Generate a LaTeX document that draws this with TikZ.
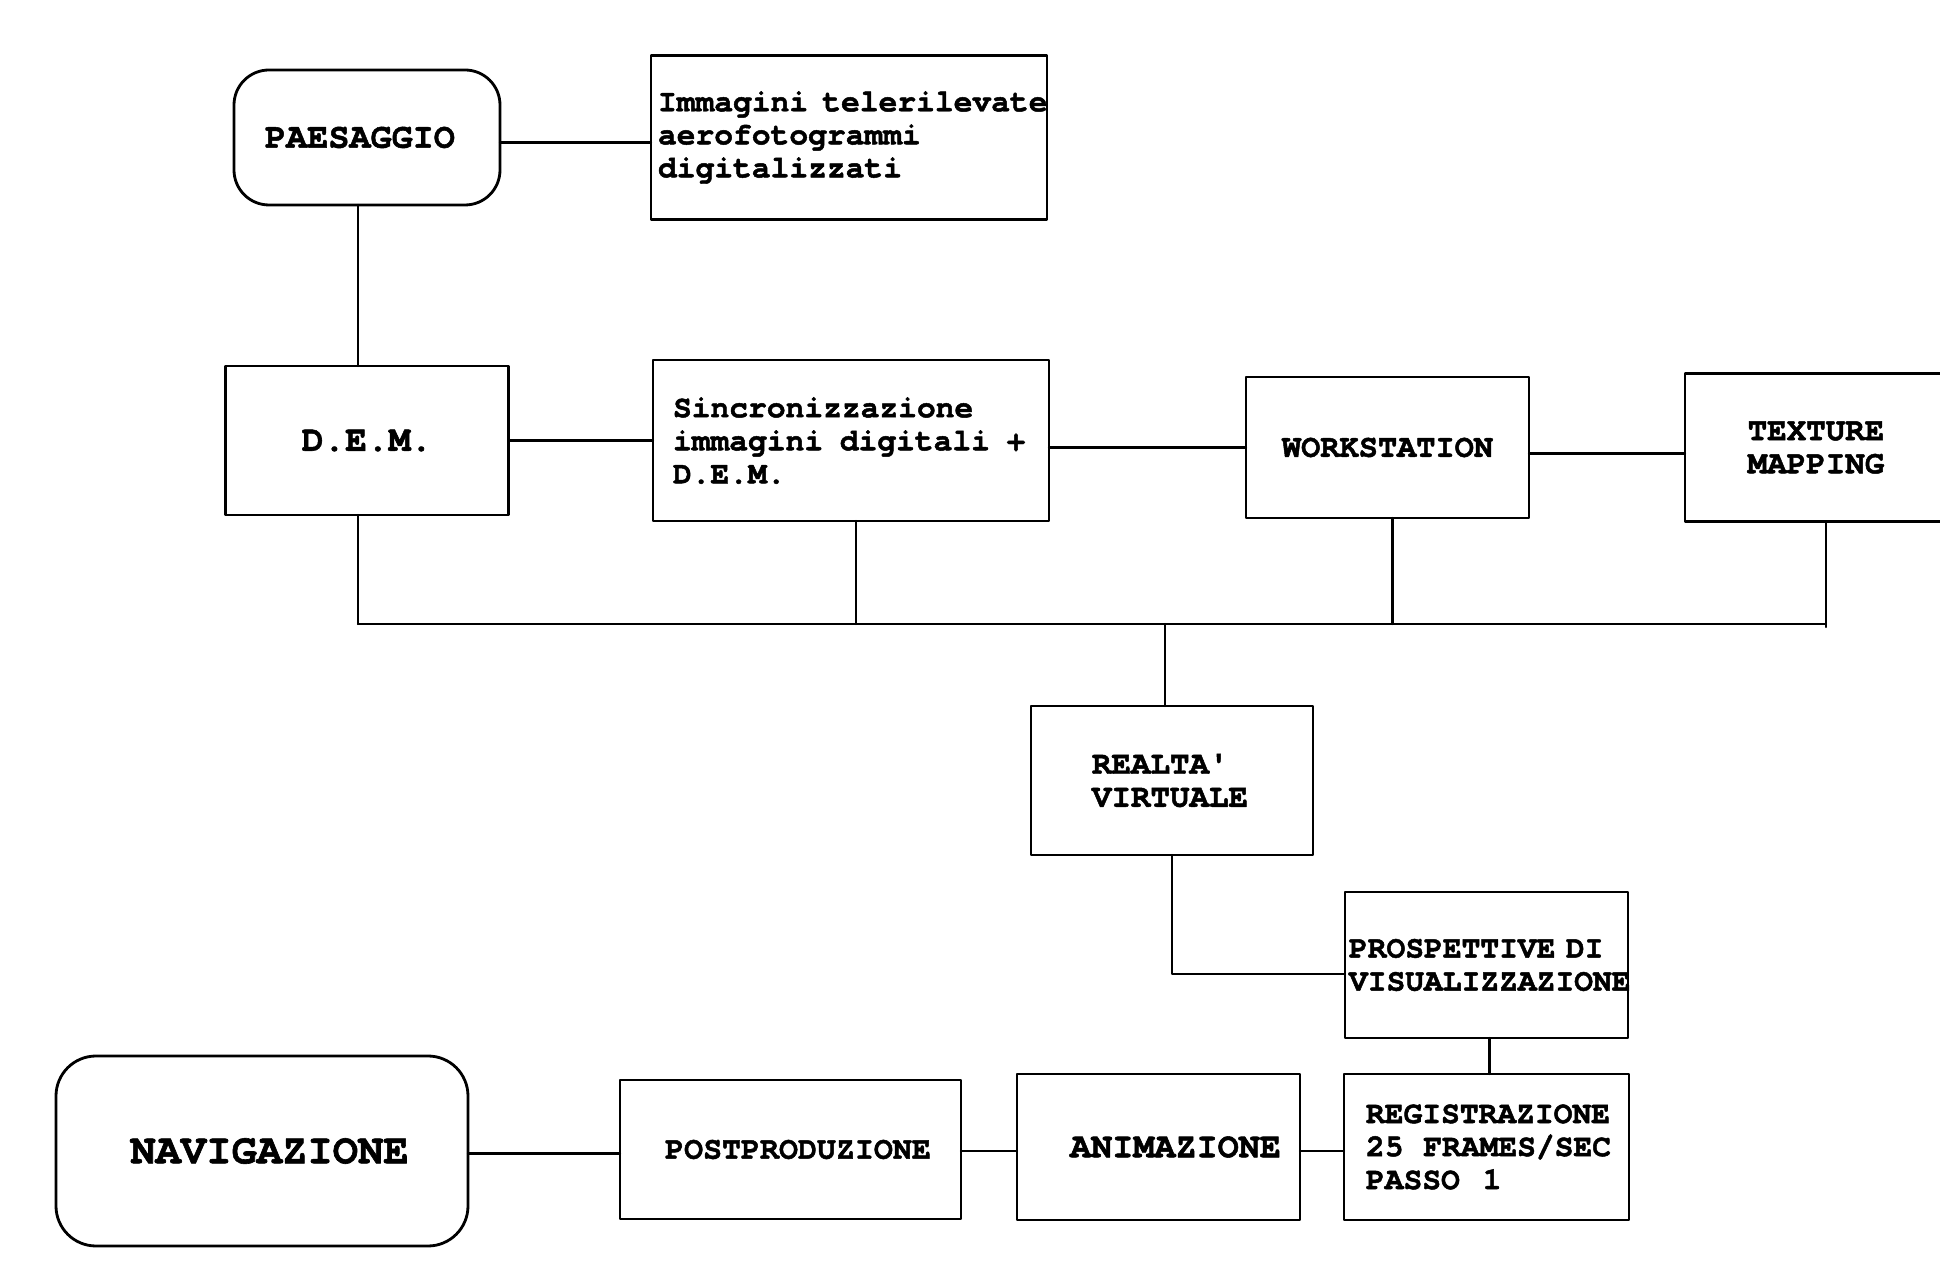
\documentclass[tikz,border=0pt]{standalone}
\usepackage{fontspec}
\setmonofont{texgyrecursor}[Extension=.otf,UprightFont=*-regular,BoldFont=*-bold,BoldFeatures={FakeBold=1.5}]
\usetikzlibrary{positioning}
\newcommand{\typesz}[1]{\fontsize{#1pt}{9.4pt}\selectfont\spaceskip=0.6em\relax}
\tikzset{
    every picture/.style={line cap=round,line join=round},
    blockbox/.style={draw=black,line width=0.8pt,inner sep=0pt,outer sep=0pt,
      font=\ttfamily\bfseries\typesz{8.9},align=center},
    roundblock/.style={blockbox,rounded corners=3.5mm},
    leftblock/.style={blockbox,align=left},
    wire/.style={draw=black,line width=0.65pt}
}

\begin{document}
\begin{tikzpicture}
  \useasboundingbox (0,0) rectangle (19.4,-12.77);
  \clip (0,0) rectangle (19.4,-12.77);
  % top row
  \node[roundblock,minimum width=2.66cm,minimum height=1.35cm] (pae) at (3.67,-1.375)
    {\typesz{10}PAESAGGIO\hspace*{1.4mm}};
  \node[leftblock,right=1.51cm of pae,minimum height=1.64cm,text width=3.82cm,inner xsep=0.7mm] (img)
    {Immagini~\hspace{0.12em}telerilevate\\aerofotogrammi\\digitalizzati};
  % second row
  \node[blockbox,below=1.61cm of pae,minimum width=2.83cm,minimum height=1.49cm] (dem)
    {\typesz{10.3}D.E.M.};
  \node[leftblock,right=1.445cm of dem,minimum height=1.61cm,text width=3.56cm,inner xsep=2mm] (sinc)
    {Sincronizzazione\\immagini~\hspace{0.2em}digitali~\hspace{0.2em}+\\D.E.M.};
  \node[blockbox,right=1.97cm of sinc,yshift=-0.7mm,minimum width=2.83cm,minimum height=1.41cm] (ws)
    {\typesz{9.1}WORKSTATION};
  \node[blockbox,right=1.56cm of ws,minimum width=2.62cm,minimum height=1.48cm,font=\ttfamily\bfseries\typesz{9.25}] (tm)
    {TEXTURE\\MAPPING};
  \coordinate (bus) at (11.65,-6.24);
  % middle
  \node[leftblock,below=8.2mm of bus,xshift=0.7mm,minimum height=1.49cm,text width=1.6cm,inner xsep=6.1mm,font=\ttfamily\bfseries\typesz{9.25}] (rv)
    {REALTA'\\VIRTUALE};
  \node[leftblock,below right=3.7mm and 3.2mm of rv,minimum height=1.46cm,text width=2.75cm,inner xsep=0.4mm] (pv)
    {PROSPETTIVE~DI\\VISUALIZZAZIONE};
  % bottom row
  \node[leftblock,below=3.6mm of pv,minimum height=1.46cm,text width=2.41cm,inner xsep=2.2mm] (reg)
    {REGISTRAZIONE\\25~\hspace{0.3em}FRAMES/SEC\\PASSO~\hspace{0.4em}1};
  \node[blockbox,left=4.4mm of reg,minimum width=2.83cm,minimum height=1.46cm] (anim)
    {\hspace*{3.4mm}\typesz{10}ANIMAZIONE};
  \node[blockbox,left=5.6mm of anim,yshift=-0.25mm,minimum width=3.41cm,minimum height=1.39cm] (post)
    {\hspace*{1.5mm}\typesz{9}POSTPRODUZIONE};
  \node[roundblock,left=1.52cm of post,yshift=-0.15mm,minimum width=4.12cm,minimum height=1.9cm,rounded corners=4mm] (nav)
    {\hspace*{1.5mm}\typesz{12}NAVIGAZIONE};
  % connectors
  \draw[wire] ([yshift=-0.5mm]pae.east) -- ([yshift=-0.5mm]pae.east -| img.west);
  \draw[wire] ([xshift=-0.9mm]pae.south) -- ([xshift=-0.9mm]dem.north);
  \draw[wire] (dem) -- (sinc);
  \draw[wire] (ws.west -| sinc.east) -- (ws.west);
  \draw[wire] ([yshift=-0.6mm]ws.east) -- ([yshift=-0.6mm]ws.east -| tm.west);
  \draw[wire] ([xshift=-0.9mm]dem.south) -- ([xshift=-0.9mm]dem.south |- bus);
  \draw[wire] ([xshift=0.5mm]sinc.south) -- ([xshift=0.5mm]sinc.south |- bus);
  \draw[wire] ([xshift=0.5mm]ws.south) -- ([xshift=0.5mm]ws.south |- bus);
  \draw[wire] ([xshift=1mm]tm.south) -- ([xshift=1mm,yshift=-0.3mm]tm.south |- bus);
  \draw[wire] ([xshift=-0.9mm]dem.south |- bus) -- ([xshift=1mm]tm.south |- bus);
  \draw[wire] (bus) -- (rv.north -| bus);
  \draw[wire] (rv.south) |- ([yshift=-0.9mm]pv.west);
  \draw[wire] ([xshift=0.3mm]pv.south) -- ([xshift=0.3mm]reg.north);
  \draw[wire] ([yshift=-0.4mm]reg.west) -- ([yshift=-0.4mm]reg.west -| anim.east);
  \draw[wire] ([yshift=-0.4mm]anim.west) -- ([yshift=-0.4mm]anim.west -| post.east);
  \draw[wire] ([yshift=-0.4mm]post.west) -- ([yshift=-0.4mm]post.west -| nav.east);
\end{tikzpicture}
\end{document}
